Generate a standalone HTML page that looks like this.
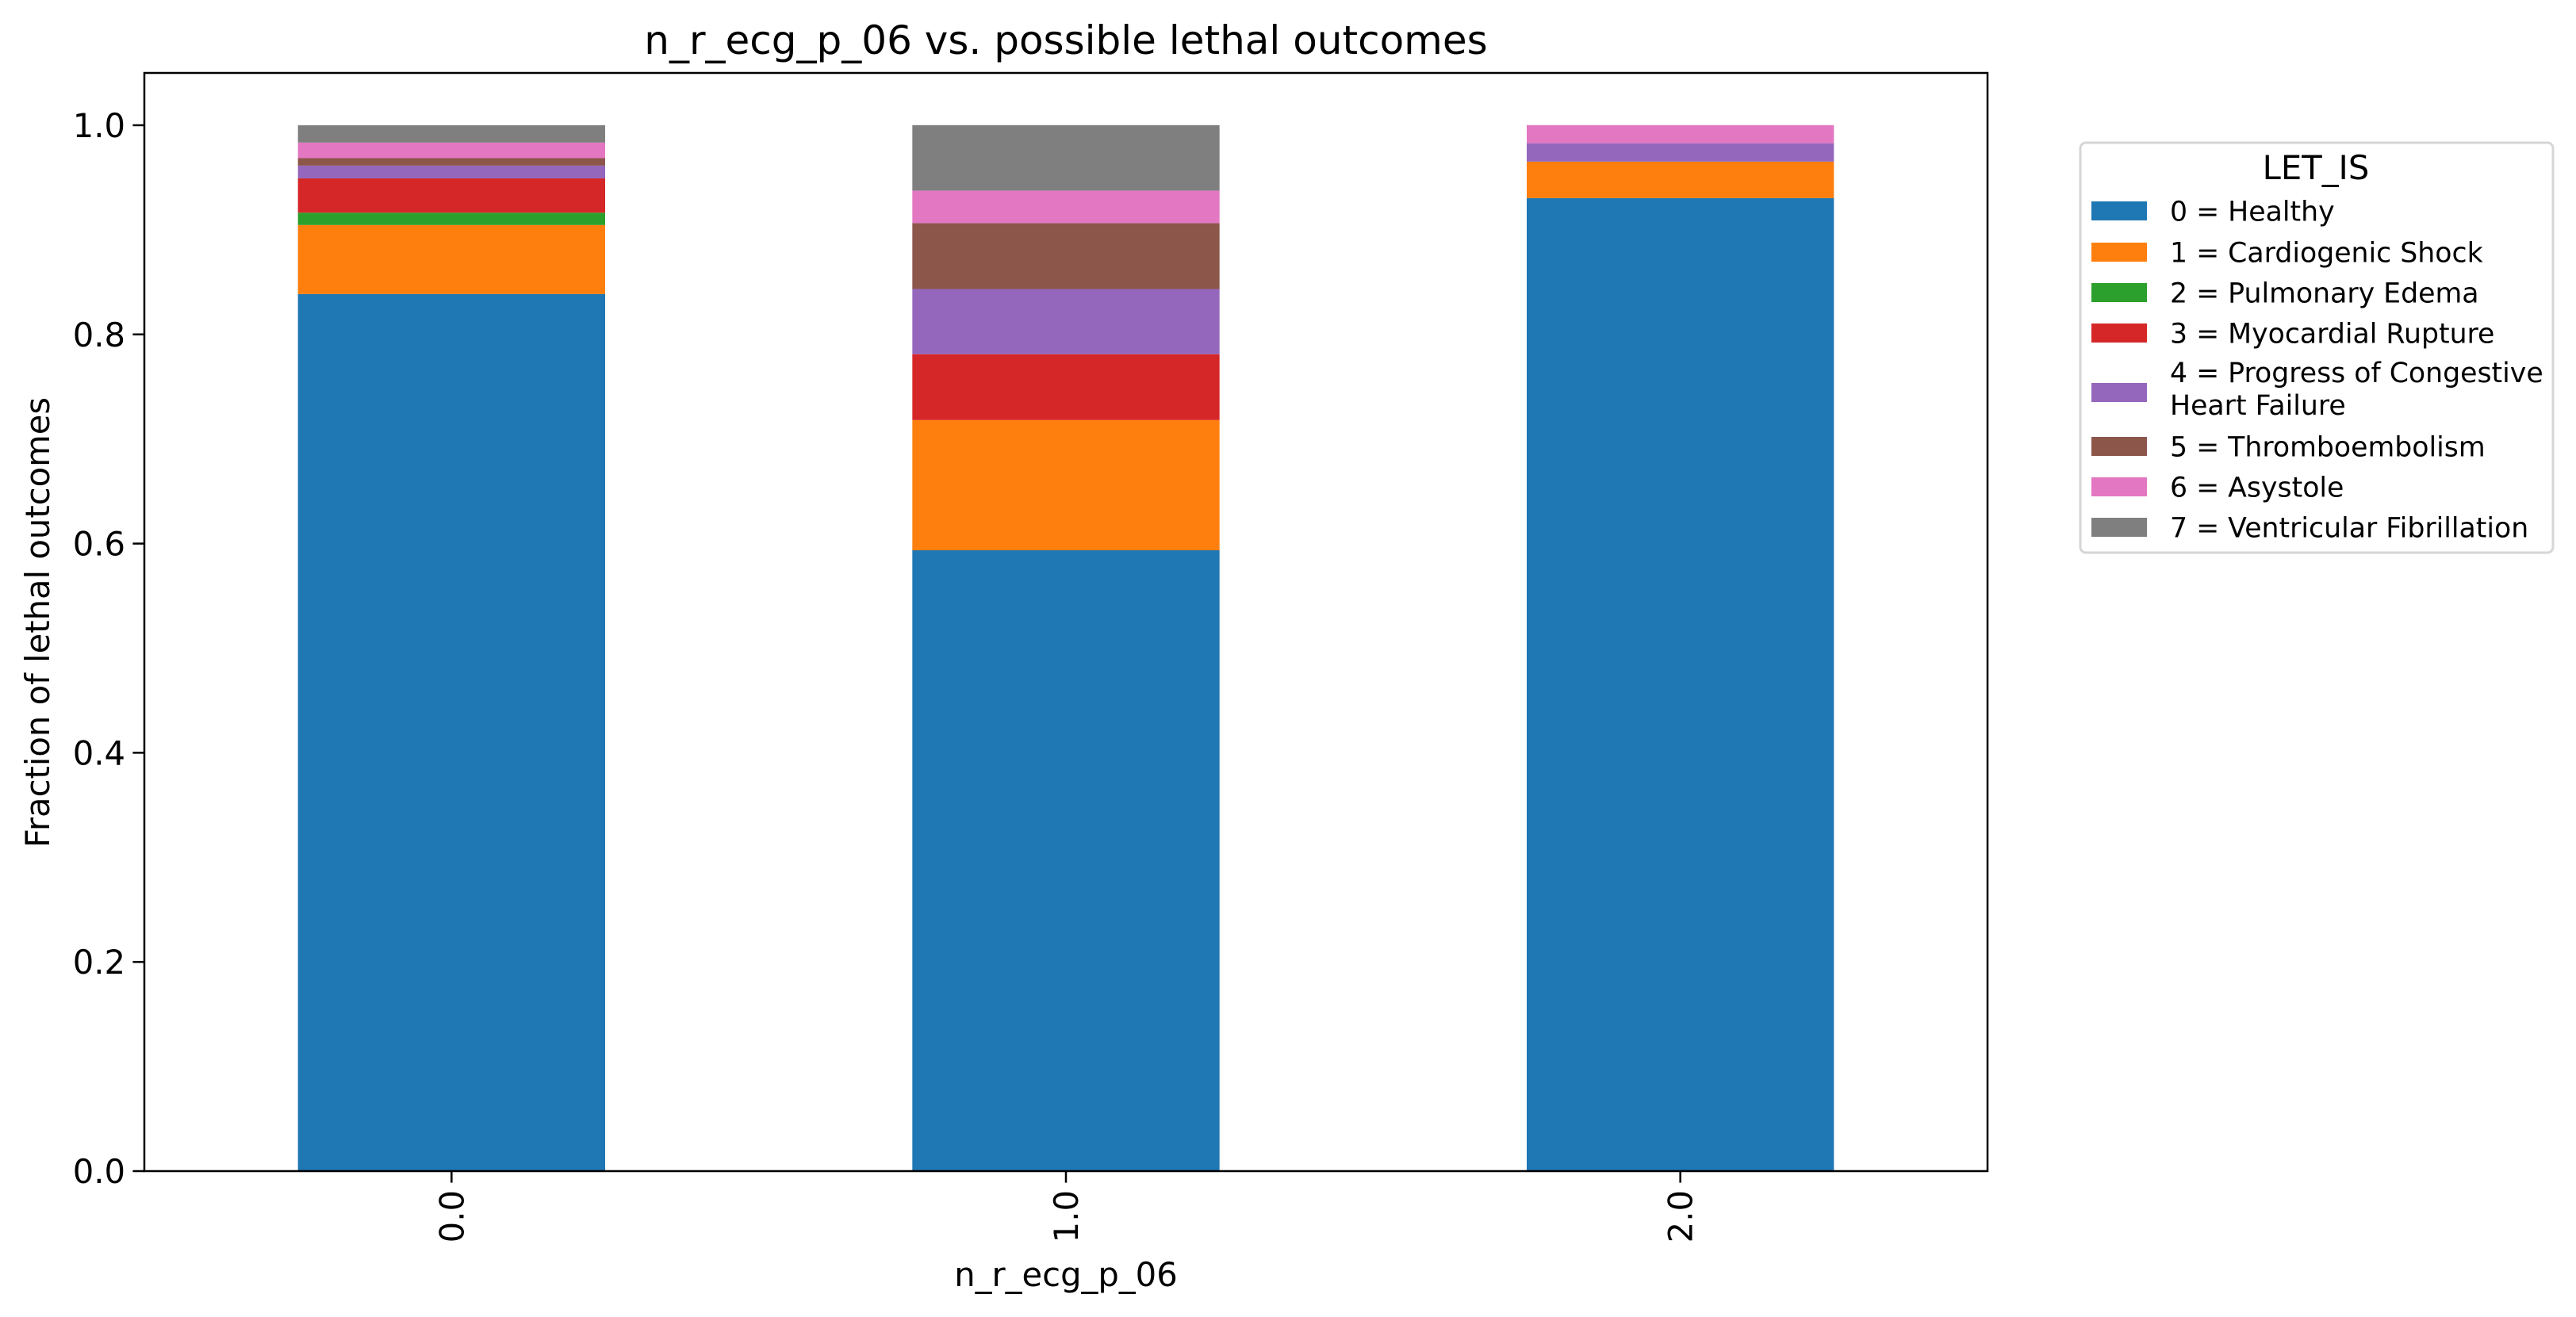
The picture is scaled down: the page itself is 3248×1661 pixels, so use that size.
<!DOCTYPE html>
<html><head><meta charset="utf-8"><style>
html,body{margin:0;padding:0;background:#fff;}
svg{display:block;font-family:"DejaVu Sans","Liberation Sans",sans-serif;}
</style></head><body>
<svg id="chart" width="3248" height="1661" viewBox="0 0 3248 1661" xmlns="http://www.w3.org/2000/svg">
<rect width="3248" height="1661" fill="#fff"/>
<text x="1344" y="68" font-size="50" text-anchor="middle">n_r_ecg_p_06 vs. possible lethal outcomes</text>
<g id="bars"></g>
<g id="axes"></g>
<text transform="translate(62,785) rotate(-90)" font-size="41.7" text-anchor="middle">Fraction of lethal outcomes</text>
<text x="1344" y="1622" font-size="41.7" text-anchor="middle">n_r_ecg_p_06</text>
<g id="legend"></g>
</svg>
<script>
const categories = ["0.0", "1.0", "2.0"];
const seriesNames = ["0 = Healthy", "1 = Cardiogenic Shock", "2 = Pulmonary Edema", "3 = Myocardial Rupture", "4 = Progress of Congestive|Heart Failure", "5 = Thromboembolism", "6 = Asystole", "7 = Ventricular Fibrillation"];
const colors = ["#1f77b4", "#ff7f0e", "#2ca02c", "#d62728", "#9467bd", "#8c564b", "#e377c2", "#7f7f7f"];
const healthy = [0.8386, 0.5936, 0.9303];
const cardiogenic = [0.0660, 0.1245, 0.0349];
const pulmonary = [0.0118, 0.0, 0.0];
const rupture = [0.0328, 0.0630, 0.0];
const congestive = [0.0122, 0.0623, 0.0176];
const thrombo = [0.0071, 0.0630, 0.0];
const asystole = [0.0149, 0.0311, 0.0173];
const vfib = [0.0166, 0.0626, 0.0];
const yTicks = [0.0, 0.2, 0.4, 0.6, 0.8, 1.0];
const yTickLabels = ["0.0", "0.2", "0.4", "0.6", "0.8", "1.0"];

const series = [healthy, cardiogenic, pulmonary, rupture, congestive, thrombo, asystole, vfib];
const NS = "http://www.w3.org/2000/svg";
const L = 182, R = 2506, T = 92, B = 1477;
const yMax = 1.05;
function y(v){ return B - v / yMax * (B - T); }
const step = (R - L) / categories.length;
function xc(i){ return L + (i + 0.5) * step; }
const barW = step * 0.5;
function mk(tag, attrs, parent){ const e = document.createElementNS(NS, tag); for (const k in attrs) e.setAttribute(k, attrs[k]); parent.appendChild(e); return e; }

const bars = document.getElementById('bars');
categories.forEach((c, i) => {
  let acc = 0;
  series.forEach((s, j) => {
    const v = s[i];
    if (v > 0) {
      const r = mk('rect', {x: xc(i) - barW/2, y: y(acc + v), width: barW, height: y(acc) - y(acc + v), fill: colors[j]}, bars);
      
      
    }
    acc += v;
  });
});

const axes = document.getElementById('axes');
const frame = mk('rect', {x: L, y: T, width: R - L, height: B - T, fill: 'none', stroke: '#000', 'stroke-width': 2.5}, axes);


yTicks.forEach((t, k) => {
  const ln = mk('line', {x1: L - 14.6, x2: L, y1: y(t), y2: y(t), stroke: '#000', 'stroke-width': 2.5}, axes);
  
  
  const tx = mk('text', {x: L - 24, y: y(t) + 15, 'font-size': 41.7, 'text-anchor': 'end'}, axes);
  tx.textContent = yTickLabels[k];
  
  
});
categories.forEach((c, i) => {
  const ln = mk('line', {x1: xc(i), x2: xc(i), y1: B, y2: B + 14.6, stroke: '#000', 'stroke-width': 2.5}, axes);
  
  
  const tx = mk('text', {transform: `translate(${xc(i) + 15},${B + 24}) rotate(-90)`, 'font-size': 41.7, 'text-anchor': 'end'}, axes);
  tx.textContent = c;
  
  
});

const lg = document.getElementById('legend');
const box = mk('rect', {x: 2623, y: 180, width: 596, height: 517, rx: 7, fill: '#fff', stroke: '#d6d6d6', 'stroke-width': 3}, lg);


const lt = mk('text', {x: 2920, y: 226, 'font-size': 41.7, 'text-anchor': 'middle'}, lg);
lt.textContent = 'LET_IS';


const rowY = [266, 318, 369, 420, 495, 563, 614, 665];
seriesNames.forEach((n, j) => {
  const g = mk('g', {}, lg);
  
  
  mk('rect', {x: 2637, y: rowY[j] - 12, width: 70, height: 24, fill: colors[j]}, g);
  const parts = n.split('|');
  if (parts.length === 1) {
    const t = mk('text', {x: 2736, y: rowY[j] + 12.5, 'font-size': 34.7}, g);
    t.textContent = n;
  } else {
    const t1 = mk('text', {x: 2736, y: rowY[j] - 13, 'font-size': 34.7}, g);
    t1.textContent = parts[0];
    const t2 = mk('text', {x: 2736, y: rowY[j] + 28, 'font-size': 34.7}, g);
    t2.textContent = parts[1];
  }
});
</script>
</body></html>
